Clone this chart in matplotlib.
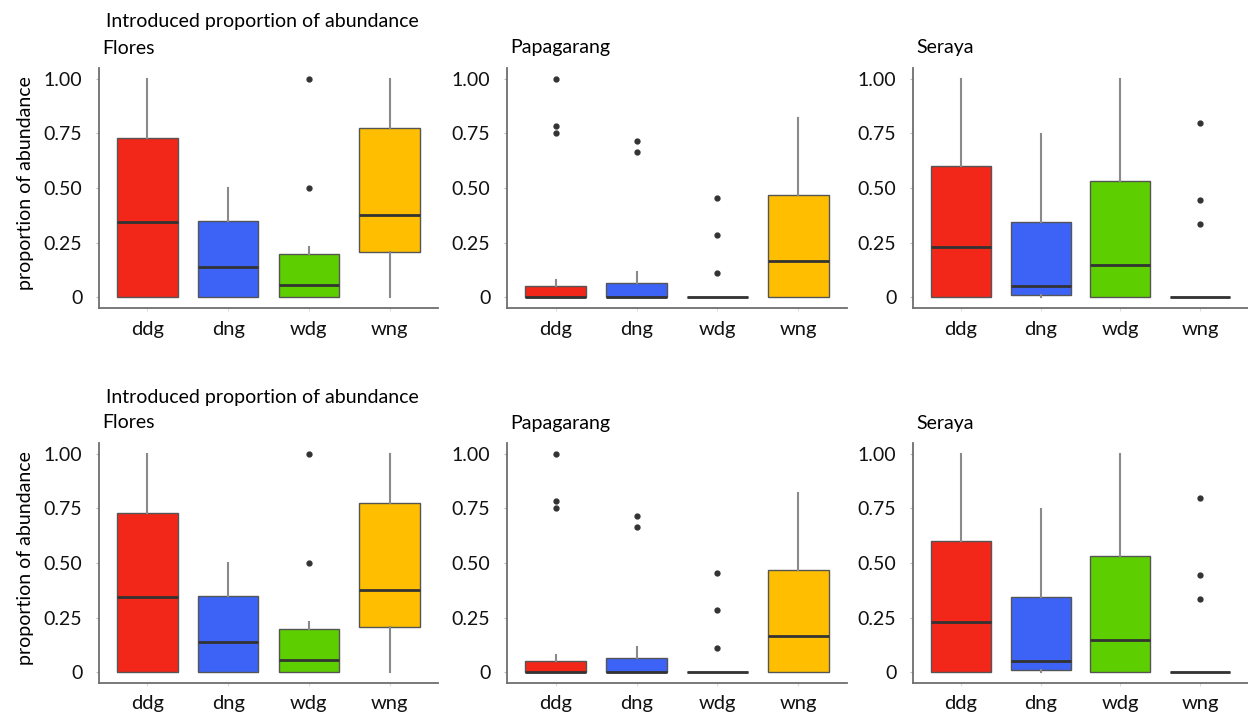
import matplotlib
matplotlib.use("Agg")
import matplotlib.pyplot as plt

plt.rcParams['font.family'] = ['Lato', 'DejaVu Sans']

grupos = ["ddg", "dng", "wdg", "wng"]
colores = ["#F2271A", "#3C63F5", "#5DCF00", "#FFBF00"]
yticks = [0, 0.25, 0.5, 0.75, 1.0]
ytick_labels = ["0", "0.25", "0.50", "0.75", "1.00"]

# Flores
flores_q1 = [0, 0, 0, 0.205]
flores_med = [0.345, 0.14, 0.055, 0.374]
flores_q3 = [0.73, 0.35, 0.198, 0.775]
flores_lo = [0, 0, 0, 0]
flores_hi = [1.0, 0.5, 0.228, 1.0]
flores_out = [[], [], [0.5, 1.0], []]

# Papagarang
papagarang_q1 = [0, 0, 0, 0]
papagarang_med = [0, 0, 0, 0.166]
papagarang_q3 = [0.052, 0.066, 0, 0.466]
papagarang_lo = [0, 0, 0, 0]
papagarang_hi = [0.077, 0.115, 0, 0.82]
papagarang_out = [[0.751, 0.785, 1.0], [0.666, 0.715], [0.111, 0.285, 0.454], []]

# Seraya
seraya_q1 = [0, 0.011, 0, 0]
seraya_med = [0.228, 0.052, 0.145, 0]
seraya_q3 = [0.603, 0.342, 0.531, 0]
seraya_lo = [0, 0, 0, 0]
seraya_hi = [1.0, 0.749, 1.0, 0]
seraya_out = [[], [], [], [0.334, 0.446, 0.80]]

islas = [
    ("Flores", flores_q1, flores_med, flores_q3, flores_lo, flores_hi, flores_out),
    ("Papagarang", papagarang_q1, papagarang_med, papagarang_q3, papagarang_lo, papagarang_hi, papagarang_out),
    ("Seraya", seraya_q1, seraya_med, seraya_q3, seraya_lo, seraya_hi, seraya_out),
]

W, H = 1248, 719
fig = plt.figure(figsize=(W / 100, H / 100), dpi=100)

lefts = [99, 507, 913]
anchos = [339, 340, 335]
filas = [(68, 308), (443, 683)]  # top, bottom en pixeles


def dibujar(ax, q1, med, q3, lo, hi, out):
    stats = []
    for i in range(len(grupos)):
        stats.append(dict(q1=q1[i], med=med[i], q3=q3[i], whislo=lo[i], whishi=hi[i],
                          fliers=out[i], label=grupos[i]))
    b = ax.bxp(stats, positions=range(1, 5), widths=0.75, patch_artist=True, showcaps=False,
               boxprops=dict(edgecolor="#555555", linewidth=1.0),
               medianprops=dict(color="#333333", linewidth=2.0),
               whiskerprops=dict(color="#8a8a8a", linewidth=1.5),
               flierprops=dict(marker="o", markersize=3.5, markerfacecolor="#333333",
                               markeredgecolor="#333333"))
    for caja, c in zip(b["boxes"], colores):
        caja.set_facecolor(c)
    ax.set_xlim(0.4, 4.6)
    ax.set_ylim(-0.05, 1.05)
    ax.set_yticks(yticks)
    ax.set_yticklabels(ytick_labels)
    for s in ["top", "right"]:
        ax.spines[s].set_visible(False)
    for s in ["left", "bottom"]:
        ax.spines[s].set_color("#6e6e6e")
        ax.spines[s].set_linewidth(1.3)
    ax.tick_params(axis="y", length=2, color="#bbbbbb", labelsize=14, pad=10, labelcolor="#111111")
    ax.tick_params(axis="x", length=2, color="#dddddd", labelsize=14.5, pad=7, labelcolor="#111111")


for top, bottom in filas:
    for (nombre, q1, med, q3, lo, hi, out), l, w in zip(islas, lefts, anchos):
        ax = fig.add_axes([l / W, (H - bottom) / H, w / W, (bottom - top) / H])
        dibujar(ax, q1, med, q3, lo, hi, out)
        fig.text((l + 3) / W, 1 - (top - 20) / H, nombre, fontsize=14, ha="left", va="center")
    fig.text(106 / W, 1 - (top - 46) / H, "Introduced proportion of abundance",
             fontsize=14, ha="left", va="center")
    fig.text(25 / W, 1 - ((top + bottom) / 2 - 5) / H, "proportion of abundance",
             fontsize=14, rotation=90, ha="center", va="center")

fig.savefig("out.png", dpi=100)
